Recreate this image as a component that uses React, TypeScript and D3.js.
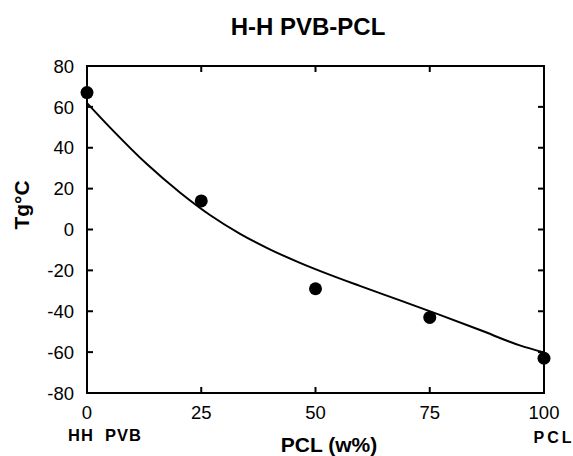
import React from "react";
import * as d3 from "d3";

const pointX = [0, 25, 50, 75, 100];
const pointY = [67, 14, -29, -43, -63];
const curveX = [0, 5.7, 13.1, 20.4, 26.9, 33.5, 40, 46.6, 53.2, 59.7, 68.5, 77.2, 86, 94.7, 100];
const curveY = [61.9, 48.4, 32, 18, 7.1, -2.1, -9.7, -16.3, -22.2, -27.6, -34.7, -41.8, -49.2, -56.7, -60.2];
const xTicks = [0, 25, 50, 75, 100];
const yTicks = [80, 60, 40, 20, 0, -20, -40, -60, -80];

export default function App() {
  const W = 573, H = 456;
  const left = 87, right = 544, top = 66, bottom = 393;
  const x = d3.scaleLinear().domain([0, 100]).range([left, right]);
  const y = d3.scaleLinear().domain([-80, 80]).range([bottom, top]);
  const line = d3
    .line<number>()
    .x((_, i) => x(curveX[i]))
    .y((d) => y(d))
    .curve(d3.curveMonotoneX);
  const font = "'Liberation Sans', Arial, Helvetica, sans-serif";
  const tl = 6;
  return (
    <svg width={W} height={H} style={{ position: "absolute", left: 0, top: 0, background: "#fff" }} fontFamily={font}>
      <text x={308} y={35} textAnchor="middle" fontSize={24} fontWeight="bold">H-H PVB-PCL</text>
      <rect x={left} y={top} width={right - left} height={bottom - top} fill="none" stroke="#000" strokeWidth={2} />
      {yTicks.map((t) => (
        <g key={"y" + t}>
          <line x1={left} x2={left + tl} y1={y(t)} y2={y(t)} stroke="#000" strokeWidth={2} />
          <line x1={right} x2={right - tl} y1={y(t)} y2={y(t)} stroke="#000" strokeWidth={2} />
          <text x={74} y={y(t)} dy="0.36em" textAnchor="end" fontSize={18.5}>{t}</text>
        </g>
      ))}
      {xTicks.map((t) => (
        <g key={"x" + t}>
          <line x1={x(t)} x2={x(t)} y1={bottom} y2={bottom - tl} stroke="#000" strokeWidth={2} />
          <line x1={x(t)} x2={x(t)} y1={top} y2={top + tl} stroke="#000" strokeWidth={2} />
          <text x={x(t)} y={419} textAnchor="middle" fontSize={18.5}>{t}</text>
        </g>
      ))}
      <text x={105} y={441} textAnchor="middle" fontSize={16.5} fontWeight="bold" letterSpacing={1} xmlSpace="preserve">HH  PVB</text>
      <text x={554} y={443} textAnchor="middle" fontSize={16} fontWeight="bold" letterSpacing={3}>PCL</text>
      <text x={329} y={452} textAnchor="middle" fontSize={21} fontWeight="bold">PCL (w%)</text>
      <text transform={`translate(29,205) rotate(-90)`} textAnchor="middle" fontSize={21} fontWeight="bold">Tg°C</text>
      <path d={line(curveY) || ""} fill="none" stroke="#000" strokeWidth={2} />
      {pointX.map((px, i) => (
        <circle key={"p" + i} cx={x(px)} cy={y(pointY[i])} r={6.5} fill="#000" />
      ))}
    </svg>
  );
}
